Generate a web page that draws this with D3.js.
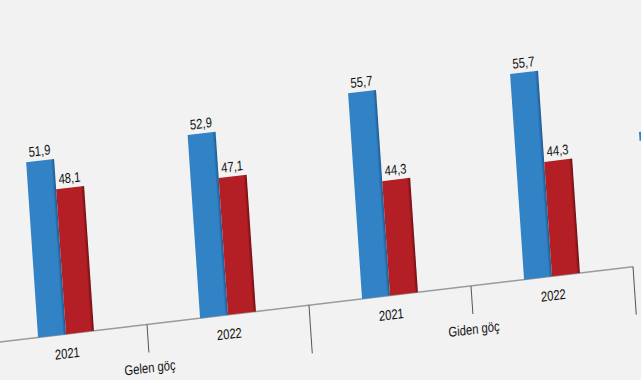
<!DOCTYPE html>
<html>
<head>
<meta charset="utf-8">
<script src="https://cdn.jsdelivr.net/npm/d3@7"></script>
<style>
  html, body { margin: 0; padding: 0; background: #f2f2f2; overflow: hidden; }
  svg { display: block; }
  text { font-family: "Liberation Sans", Arial, sans-serif; font-size: 14px; fill: #111; }
</style>
</head>
<body>
<svg id="chart"></svg>
<script>
'use strict';

// groups (göç türü) and years
const groups = ['Gelen göç', 'Giden göç'];
const years = ['2021', '2022'];
const series = ['Erkek', 'Kadın'];

// values in %, order: Gelen 2021, Gelen 2022, Giden 2021, Giden 2022
const erkek = [51.9, 52.9, 55.7, 55.7];
const kadin = [48.1, 47.1, 44.3, 44.3];

const colors = { Erkek: '#3282c6', Kadın: '#b31f25' };
const edges = { Erkek: '#1d5a8f', Kadın: '#6e1014' };

const width = 641, height = 380;

const svg = d3.select('#chart')
    .attr('width', width)
    .attr('height', height);

// the picture is a skewed photo of the chart, so everything is drawn in a tilted frame
const graph = svg.append('g')
    .attr('transform', 'matrix(1,-0.119,0.068,1,0,342)');

// narrow type, like the original condensed font
const narrow = (x, y) => `translate(${x},${y}) scale(0.8,1)`;

const cats = [];
groups.forEach(g => years.forEach(y => cats.push(g + '|' + y)));

const rows = cats.map((c, i) => ({ key: c, group: c.split('|')[0], year: c.split('|')[1], Erkek: erkek[i], Kadın: kadin[i] }));

const x0 = d3.scaleBand()
    .domain(cats)
    .range([-15, 633]);

const x1 = d3.scaleBand()
    .domain(series)
    .range([0, x0.bandwidth()])
    .paddingOuter(1.9);

const xg = d3.scaleBand()
    .domain(groups)
    .range([-15, 633]);

const y = d3.scaleLinear()
    .domain([30, 60])
    .range([0, -240]);

// gradients for the dark right edge of the bars
const defs = svg.append('defs');
series.forEach((s, i) => {
  const grad = defs.append('linearGradient')
      .attr('id', 'g' + i)
      .attr('x1', 0).attr('x2', 1).attr('y1', 0).attr('y2', 0);
  grad.append('stop').attr('offset', '0%').attr('stop-color', colors[s]);
  grad.append('stop').attr('offset', '88%').attr('stop-color', colors[s]);
  grad.append('stop').attr('offset', '100%').attr('stop-color', edges[s]);
});

// axis line
graph.append('line')
    .attr('x1', x0.range()[0])
    .attr('x2', x0.range()[1])
    .attr('y1', y(30))
    .attr('y2', y(30))
    .attr('stroke', '#9a9a9a')
    .attr('stroke-width', 1.5);

// ticks: short between years, long between groups
const ticks = d3.range(cats.length + 1).map(i => ({ x: x0.range()[0] + i * x0.step(), long: i % 2 === 0 }));
graph.append('g')
    .selectAll('line')
    .data(ticks)
  .enter().append('line')
    .attr('x1', d => d.x)
    .attr('x2', d => d.x)
    .attr('y1', y(30))
    .attr('y2', d => d.long ? 48 : 28)
    .attr('stroke', '#555')
    .attr('stroke-width', 1);

// bars
const cat = graph.append('g')
    .selectAll('g')
    .data(rows)
  .enter().append('g')
    .attr('transform', d => `translate(${x0(d.key)},0)`);

cat.selectAll('rect')
    .data(d => series.map((s, i) => ({ s: s, i: i, v: d[s] })))
  .enter().append('rect')
    .attr('x', d => x1(d.s))
    .attr('y', d => y(d.v))
    .attr('width', x1.bandwidth())
    .attr('height', d => y(30) - y(d.v))
    .attr('fill', d => `url(#g${d.i})`);

cat.selectAll('text.val')
    .data(d => series.map(s => ({ s: s, v: d[s] })))
  .enter().append('text')
    .attr('class', 'val')
    .attr('transform', d => narrow(x1(d.s) + x1.bandwidth() / 2, y(d.v) - 5))
    .attr('text-anchor', 'middle')
    .text(d => d3.format('.1f')(d.v).replace('.', ','));

// year labels
graph.append('g')
    .selectAll('text')
    .data(rows)
  .enter().append('text')
    .attr('transform', d => narrow(x0(d.key) + x0.bandwidth() / 2, 24))
    .attr('text-anchor', 'middle')
    .text(d => d.year);

// group labels
graph.append('g')
    .selectAll('text')
    .data(groups)
  .enter().append('text')
    .attr('transform', d => narrow(xg(d) + xg.bandwidth() / 2, 48))
    .attr('text-anchor', 'middle')
    .text(d => d);

// legend lies past the right edge of the photo, only the first marker peeks in
graph.append('g')
    .attr('transform', 'translate(648,-133)')
    .selectAll('rect')
    .data(series)
  .enter().append('rect')
    .attr('x', (d, i) => i * 70)
    .attr('y', 0)
    .attr('width', 9)
    .attr('height', 9)
    .attr('fill', d => colors[d]);
</script>
</body>
</html>
